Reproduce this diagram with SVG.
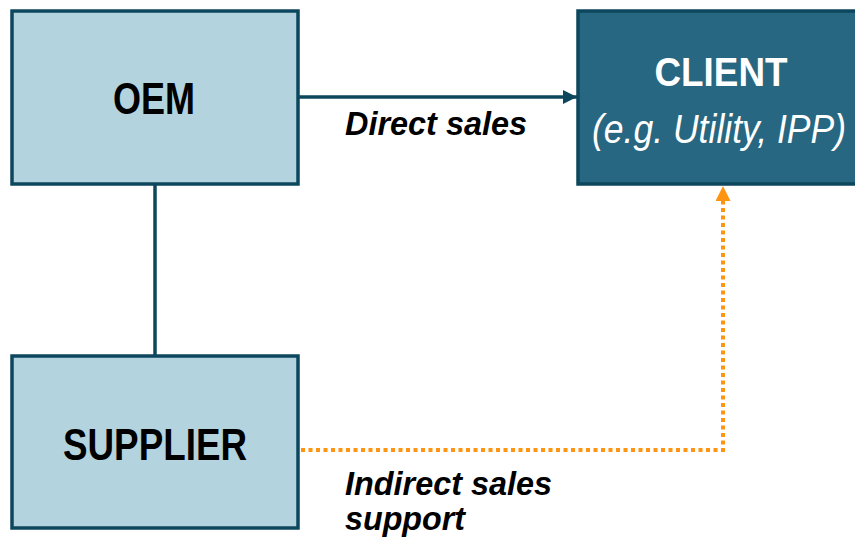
<svg xmlns="http://www.w3.org/2000/svg" width="855" height="545" viewBox="0 0 855 545">
  <defs>
    <style>
      .box-light { fill: #b3d3de; stroke: #0c475d; stroke-width: 3.5; }
      .box-dark { fill: #276781; stroke: #0c475d; stroke-width: 3.5; }
      .name { font-family: "Liberation Sans", Arial, sans-serif; font-weight: bold; text-anchor: middle; }
      .label { font-family: "Liberation Sans", Arial, sans-serif; font-weight: bold; font-style: italic; fill: #000; }
      .link { fill: none; stroke: #0c475d; stroke-width: 3.5; }
      .dotted { fill: none; stroke: #ff9412; stroke-width: 4; stroke-dasharray: 4 3.5; }
    </style>
    <marker id="arrow-dark" viewBox="0 0 10 10" refX="10" refY="5" markerWidth="16" markerHeight="14" markerUnits="userSpaceOnUse" orient="auto">
      <path d="M0,0 L10,5 L0,10 z" fill="#0c475d"/>
    </marker>
    <marker id="arrow-orange" viewBox="0 0 10 10" refX="10" refY="5" markerWidth="15" markerHeight="15" markerUnits="userSpaceOnUse" orient="auto">
      <path d="M0,0 L10,5 L0,10 z" fill="#ff9412"/>
    </marker>
  </defs>

  <!-- connectors -->
  <g id="connectors">
    <line class="link" x1="155" y1="184" x2="155" y2="356"/>
    <line class="link" x1="298" y1="97" x2="577" y2="97" marker-end="url(#arrow-dark)"/>
    <path class="dotted" d="M301,450 H723 V199"/>
    <line x1="723" y1="200" x2="723" y2="186" stroke="none" marker-end="url(#arrow-orange)"/>
    <text class="label" x="345" y="135" font-size="33" textLength="182" lengthAdjust="spacingAndGlyphs">Direct sales</text>
    <text class="label" x="345" y="495" font-size="34" textLength="207" lengthAdjust="spacingAndGlyphs">Indirect sales</text>
    <text class="label" x="345" y="530" font-size="34" textLength="120" lengthAdjust="spacingAndGlyphs">support</text>
  </g>

  <!-- OEM node -->
  <g id="oem">
    <rect class="box-light" x="12" y="11" width="286" height="173"/>
    <text class="name" x="154" y="114" font-size="44" fill="#000" textLength="82" lengthAdjust="spacingAndGlyphs">OEM</text>
  </g>

  <!-- Supplier node -->
  <g id="supplier">
    <rect class="box-light" x="12" y="356" width="286" height="172"/>
    <text class="name" x="155" y="460" font-size="45" fill="#000" textLength="184" lengthAdjust="spacingAndGlyphs">SUPPLIER</text>
  </g>

  <!-- Client node -->
  <g id="client">
    <rect class="box-dark" x="578" y="11" width="290" height="173"/>
    <text class="name" x="721" y="86" font-size="40" fill="#fff" textLength="133" lengthAdjust="spacingAndGlyphs">CLIENT</text>
    <text x="719" y="143" font-family="'Liberation Sans', Arial, sans-serif" font-style="italic" font-size="40" fill="#fff" text-anchor="middle" textLength="254" lengthAdjust="spacingAndGlyphs">(e.g. Utility, IPP)</text>
  </g>
</svg>
